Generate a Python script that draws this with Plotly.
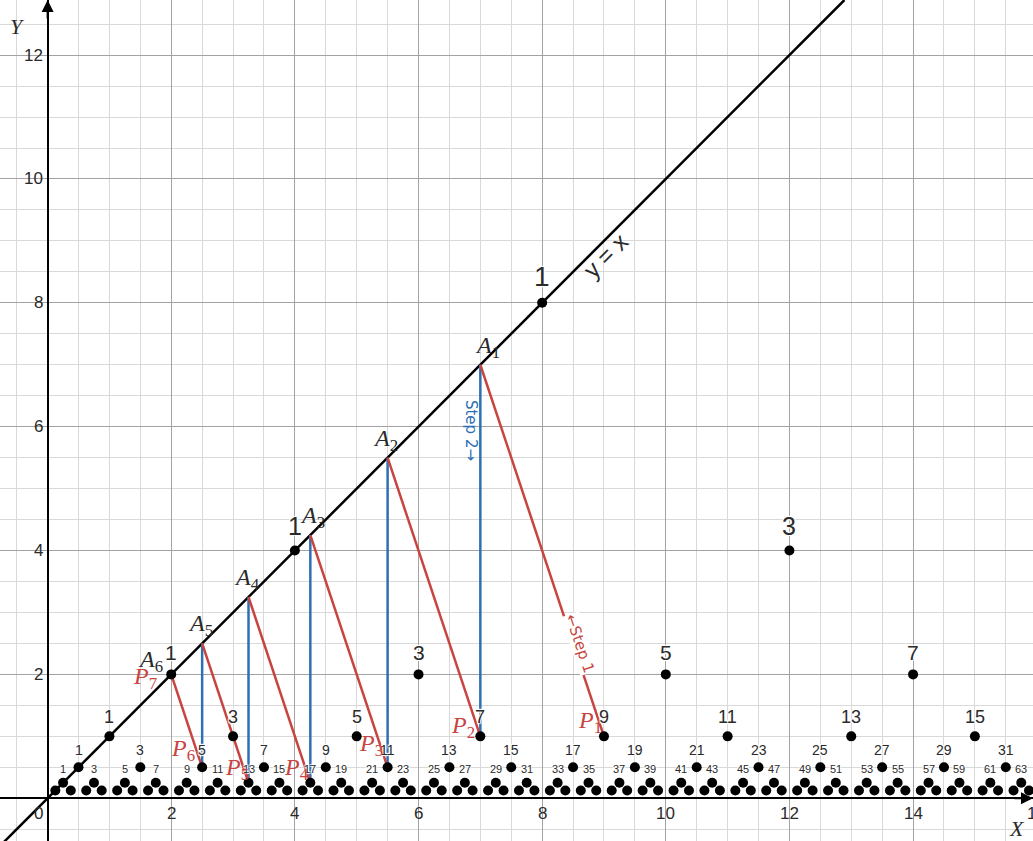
import plotly.graph_objects as go

# odd numerators on each level y = h, points sit at x = n * h
levels = [8, 4, 2, 1, 0.5, 0.25, 0.125]
odd_by_level = {
    8: [1],
    4: [1, 3],
    2: [1, 3, 5, 7],
    1: [1, 3, 5, 7, 9, 11, 13, 15],
    0.5: [1, 3, 5, 7, 9, 11, 13, 15, 17, 19, 21, 23, 25, 27, 29, 31],
    0.25: [1, 3, 5, 7, 9, 11, 13, 15, 17, 19, 21, 23, 25, 27, 29, 31,
           33, 35, 37, 39, 41, 43, 45, 47, 49, 51, 53, 55, 57, 59, 61, 63],
    0.125: [1, 3, 5, 7, 9, 11, 13, 15, 17, 19, 21, 23, 25, 27, 29, 31,
            33, 35, 37, 39, 41, 43, 45, 47, 49, 51, 53, 55, 57, 59, 61, 63,
            65, 67, 69, 71, 73, 75, 77, 79, 81, 83, 85, 87, 89, 91, 93, 95,
            97, 99, 101, 103, 105, 107, 109, 111, 113, 115, 117, 119, 121, 123, 125, 127],
}
# label font size and lift above the dot, per level
label_style = {8: (28, 10), 4: (25, 10), 2: (21, 9), 1: (18, 8), 0.5: (14, 8), 0.25: (11, 7)}

# construction points
A_sub = ["1", "2", "3", "4", "5", "6"]
A_x = [7, 5.5, 4.25, 3.25, 2.5, 2]
P_sub = ["1", "2", "3", "4", "5", "6", "7"]
P_x = [9, 7, 5.5, 4.25, 3.25, 2.5, 2]
P_y = [1, 1, 0.5, 0.25, 0.25, 0.5, 2]

x_ticks = [2, 4, 6, 8, 10, 12, 14, 16]
y_ticks = [2, 4, 6, 8, 10, 12]

RED = "#c74440"
BLUE = "#2d70b3"
INK = "#2a2a2a"
FONT = "Liberation Sans"
SERIF = "Liberation Serif"
XR = [-0.77, 15.94]
YR = [-0.69, 12.89]
PX = 1033 / (XR[1] - XR[0])  # pixels per x unit
halo = "1px 1px 1px white, -1px -1px 1px white, 1px -1px 1px white, -1px 1px 1px white"

fig = go.Figure()

# y = x line
fig.add_trace(go.Scatter(x=[XR[0], YR[1]], y=[XR[0], YR[1]], mode="lines",
                         line=dict(color="black", width=2.5), hoverinfo="skip"))

# blue steps: A_i straight down to P_{i+1}
for i in range(5):
    fig.add_trace(go.Scatter(x=[A_x[i], P_x[i + 1]], y=[A_x[i], P_y[i + 1]], mode="lines",
                             line=dict(color=BLUE, width=2.5), hoverinfo="skip"))
# red steps: A_i to P_i
for i in range(6):
    fig.add_trace(go.Scatter(x=[A_x[i], P_x[i]], y=[A_x[i], P_y[i]], mode="lines",
                             line=dict(color=RED, width=2.5), hoverinfo="skip"))

ann = []
for h in levels:
    ns = odd_by_level[h]
    xs = [n * h for n in ns]
    fig.add_trace(go.Scatter(x=xs, y=[h] * len(ns), mode="markers",
                             marker=dict(color="black", size=10), hoverinfo="skip"))
    if h in label_style:
        size, lift = label_style[h]
        for n, x in zip(ns, xs):
            ann.append(dict(x=x, y=h, text=str(n), showarrow=False, yanchor="bottom",
                            yshift=lift, borderpad=0,
                            font=dict(family=FONT, size=size, color=INK, shadow=halo)))

# tick labels along the axes
tick_font = dict(family=FONT, size=17, color=INK)
for v in x_ticks:
    xa, xs_ = (v, 0) if v <= XR[1] else (XR[1], (v - XR[1]) * PX)  # last one sits past the edge
    ann.append(dict(x=xa, y=0, text=str(v), showarrow=False, yanchor="top", yshift=-4,
                    xshift=xs_, font=tick_font))
for v in y_ticks:
    ann.append(dict(x=0, y=v, text=str(v), showarrow=False, xanchor="right", xshift=-3,
                    font=tick_font))
ann.append(dict(x=0, y=0, text="0", showarrow=False, xanchor="right", yanchor="top",
                xshift=-3, yshift=-4, font=tick_font))

# A labels (above the point on the line)
a_shift = [(7, 18), (-2, 18), (2, 18), (-2, 18), (-2, 18), (-21, 13)]
for i, s in enumerate(A_sub):
    dx, dy = a_shift[i]
    ann.append(dict(x=A_x[i], y=A_x[i], text="<i>A</i><sub>" + s + "</sub>", showarrow=False,
                    xshift=dx, yshift=dy, font=dict(family=SERIF, size=24, color=INK)))
# P labels (left of the point)
p_shift = [(-14, 14), (-17, 9), (-17, 22), (-14, 14), (-12, 14), (-19, 17), (-26, -4)]
for i, s in enumerate(P_sub):
    dx, dy = p_shift[i]
    ann.append(dict(x=P_x[i], y=P_y[i], text="<i>P</i><sub>" + s + "</sub>", showarrow=False,
                    xshift=dx, yshift=dy, font=dict(family=SERIF, size=24, color=RED)))

ann.append(dict(x=9.03, y=8.76, text="y = x", showarrow=False, textangle=-45,
                font=dict(family=FONT, size=24, color=INK)))
ann.append(dict(x=6.84, y=5.94, text="Step 2→", showarrow=False, textangle=90,
                font=dict(family="DejaVu Sans", size=15, color=BLUE)))
ann.append(dict(x=8.6, y=2.5, text="←Step 1", showarrow=False, textangle=71.6,
                bgcolor="white", borderpad=0,
                font=dict(family="DejaVu Sans", size=15, color=RED)))

# axis names
ann.append(dict(x=XR[0], y=YR[1], text="<i>Y</i>", showarrow=False, xanchor="left", yanchor="top",
                xshift=8, yshift=-12, font=dict(family=SERIF, size=22, color=INK)))
ann.append(dict(x=XR[1], y=0, text="<i>X</i>", showarrow=False, xanchor="right", yanchor="top",
                xshift=-6, yshift=-16, font=dict(family=SERIF, size=22, color=INK)))

# axis arrows
ann.append(dict(x=XR[1], y=0, ax=-20, ay=0, showarrow=True, arrowhead=2, arrowsize=1.2,
                arrowwidth=2, arrowcolor="black", text=""))
ann.append(dict(x=0, y=YR[1], ax=0, ay=20, showarrow=True, arrowhead=2, arrowsize=1.2,
                arrowwidth=2, arrowcolor="black", text=""))

grid_axis = dict(showticklabels=False, ticks="", tick0=0, dtick=2,
                 showgrid=True, gridcolor="#a3a3a3", gridwidth=1,
                 zeroline=True, zerolinecolor="black", zerolinewidth=2,
                 minor=dict(tick0=0, dtick=0.5, showgrid=True, gridcolor="#d9d9d9", gridwidth=1),
                 showline=False, fixedrange=True)

fig.update_layout(
    width=1033, height=841,
    margin=dict(l=0, r=0, t=0, b=0),
    paper_bgcolor="white", plot_bgcolor="white",
    showlegend=False,
    xaxis=dict(range=XR, **grid_axis),
    yaxis=dict(range=YR, **grid_axis),
    annotations=ann,
)

fig.write_html("out.html", config={"displayModeBar": False},
               post_script="document.body.style.margin='0';")
